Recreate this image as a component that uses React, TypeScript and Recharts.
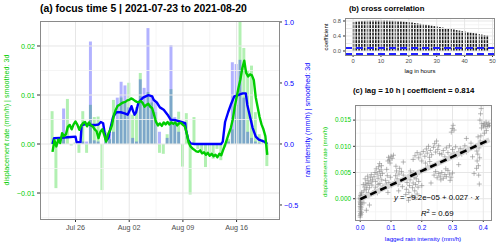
import React from 'react'
import { ComposedChart, Bar, Line, XAxis, YAxis, ReferenceLine, ScatterChart, Scatter } from 'recharts'

const FONT = '"Liberation Sans", Arial, Helvetica, sans-serif'
const GREEN = '#00cd00'
const BLUE = '#0000ff'
const MAJOR = '#e6e6e6'
const MINOR = '#f2f2f2'
const TXT = '#4d4d4d'
const BORDER = '#8a8a8a'

// ---- (a) focus time series, t = days since 2021-07-23 00:00
const dateTicks = [3, 10, 17, 24]
const dateLabels = ['Jul 26', 'Aug 02', 'Aug 09', 'Aug 16']
const dateMinor = [-0.5, 6.5, 13.5, 20.5, 27.5]
const dispTicks = [-0.01, 0, 0.01, 0.02]
const dispMinor = [-0.015, -0.005, 0.005, 0.015]
const rainTicks = [-0.5, 0, 0.5, 1]

// 12-hourly bars: displacement rate (x 1e-3 mm/h) and rain intensity (mm/h)
const dispBars = [
 6.7, -9.0, 1.0, 2.0, 9.2, -0.3, 0.3, -1.8, 6.7, -1.8,
 8.0, 5.5, 5.6, -9.4, 2.5, 1.0, 9.0, 5.0, 9.5, 8.5,
 12.5, 6.0, 7.5, 14.5, 8.0, 10.6, 8.5, 6.5, -1.8, -2.0,
 2.0, 11.2, 4.0, 6.6, -4.6, 6.3, -10.3, 5.5, -1.0, -1.5,
 -4.7, -2.0, -3.0, -1.0, -3.3, -0.5, 1.0, 3.0, 8.0, 25.0,
 19.6, 15.0, 16.0, 6.5, 2.0, 1.0, -4.5,
]
const rainBars = [
 0, 0, 0.02, 0.29, 0, 0, 0, 0, 0.02, 0.02,
 0.84, 0.03, 0.02, 0, 0.05, 0.08, 0.10, 0.38, 0.51, 0.48,
 0.30, 0.05, 0.02, 0.53, 0.46, 0.95, 0.40, 0.34, 0.10, 0,
 0.05, 0.81, 0.22, 0.10, 0, 0, 0, 0, 0, 0,
 0, 0, 0, 0, 0, 0, 0.02, 0.67, 0.655, 0.69,
 0.38, 0.10, 0.05, 0.02, 0.01, 0, 0,
]
// smoothed (3d) displacement rate every 6 h (x 1e-3 mm/h)
const dispSmooth = [
 -1.6, 0.8, -0.5, 0.9, 0.2, 2.2, 1.6, 2.0, 3.5, 3.9,
 3.0, 4.0, 4.6, 3.9, 2.9, 3.8, 4.3, 4.5, 3.6, 4.4,
 3.8, 3.6, 3.0, 2.6, 1.2, 2.5, 3.0, 1.8, 0.5, 2.0,
 2.8, 3.8, 5.9, 7.0, 7.8, 8.0, 8.3, 8.5, 8.6, 8.9,
 9.0, 9.3, 9.1, 8.8, 8.6, 8.5, 8.8, 8.4, 7.6, 8.0,
 8.2, 7.6, 7.3, 5.9, 4.5, 3.8, 4.2, 3.7, 4.4, 4.0,
 4.5, 4.0, 4.4, 4.1, 4.4, 3.8, 4.2, 4.3, 3.9, 3.6,
 2.2, 0.3, -0.5, -0.9, -1.2, -1.5, -1.6, -1.3, -1.9, -1.7,
 -2.2, -1.8, -2.4, -2.0, -2.5, -2.2, -2.7, -2.0, -2.3, -1.2,
 -0.2, 1.0, 2.2, 3.3, 5.0, 7.5, 9.5, 11.5, 13.2, 15.5,
 17.0, 14.5, 13.8, 14.2, 14.0, 13.0, 9.5, 7.5, 5.5, 4.0,
 3.0, 1.6, -2.2,
]
// smoothed (3d) rain intensity
const rainSmoothT = [
 0, 0.2, 1, 2, 3, 3.15, 3.65, 3.8, 4.5, 5, 5.5, 6, 6.3, 6.6, 6.8, 7.0, 7.3, 7.5, 7.9, 8.3,
 8.9, 9.4, 9.8, 10.1, 10.3, 10.5, 10.7, 10.9, 11.2, 11.8, 12.5, 13.0, 13.2, 13.6, 14.0, 14.5,
 15.0, 15.4, 16.0, 16.8, 17.3, 17.4, 17.7, 18.0, 18.5, 22.0, 22.2, 22.3, 22.5, 22.9, 23.3,
 23.7, 24.2, 24.8, 25.2, 25.4, 25.8, 26.1, 26.5, 26.9, 27.6, 28,
]
const rainSmooth = [
 0, 0.047, 0.05, 0.055, 0.06, 0.015, 0.015, 0.155, 0.165, 0.155, 0.155, 0.16, 0.18, 0.17, 0.09, 0.03, 0.05, 0.115, 0.22, 0.26,
 0.26, 0.25, 0.24, 0.28, 0.31, 0.27, 0.24, 0.26, 0.34, 0.38, 0.40, 0.39, 0.36, 0.34, 0.30, 0.28,
 0.24, 0.20, 0.195, 0.18, 0.17, 0.115, 0.034, 0.005, 0, 0, 0.02, 0.075, 0.18, 0.26, 0.33,
 0.39, 0.40, 0.415, 0.415, 0.32, 0.21, 0.13, 0.06, 0.035, 0.02, 0,
]

// ---- (b) cross correlation by lag (hours)
const ccf = [
 0.772, 0.785, 0.793, 0.799, 0.804, 0.808, 0.810, 0.811, 0.812, 0.813,
 0.814, 0.813, 0.811, 0.808, 0.805, 0.801, 0.796, 0.790, 0.783, 0.776,
 0.768, 0.757, 0.746, 0.735, 0.724, 0.712, 0.700, 0.688, 0.675, 0.663,
 0.650, 0.637, 0.624, 0.611, 0.597, 0.584, 0.571, 0.557, 0.544, 0.531,
 0.517, 0.504, 0.491, 0.477, 0.464, 0.451, 0.437, 0.424, 0.411,
]
const ccfConf = 0.077
const lagTicks = [0, 10, 20, 30, 40, 50]
const lagMinor = [5, 15, 25, 35, 45]
const coefTicks = [0, 0.2, 0.4, 0.6, 0.8]
const coefMinor = [-0.1, 0.1, 0.3, 0.5, 0.7]

// ---- (c) lagged rain intensity vs displacement rate
const scatterPts: [number, number][] = [
 [0.000, -0.0032], [0.001, -0.0028], [0.000, -0.0024], [0.002, -0.0021], [0.001, -0.0018], [0.000, -0.0015],
 [0.002, -0.0012], [0.001, -0.0009], [0.000, -0.0006], [0.003, -0.0004], [0.001, -0.0002], [0.002, 0.0001],
 [0.000, 0.0003], [0.001, 0.0006], [0.003, 0.0009], [0.000, -0.0035], [0.002, -0.0030], [0.004, -0.0026],
 [0.001, -0.0011], [0.003, -0.0016], [0.000, 0.0000], [0.002, -0.0007], [0.005, 0.0012], [0.004, 0.0005],
 [0.020, -0.0022], [0.030, -0.0012], [0.012, -0.0008],
 [0.012, 0.0015], [0.015, 0.0022], [0.018, 0.0030], [0.020, 0.0018], [0.022, 0.0026], [0.025, 0.0035],
 [0.028, 0.0029], [0.030, 0.0021], [0.033, 0.0040], [0.035, 0.0032], [0.038, 0.0026], [0.016, 0.0038],
 [0.024, 0.0043], [0.010, 0.0027], [0.040, 0.0036], [0.027, 0.0012], [0.036, 0.0046], [0.019, 0.0008],
 [0.045, 0.0042], [0.048, 0.0050], [0.050, 0.0033], [0.052, 0.0057], [0.055, 0.0047], [0.058, 0.0039],
 [0.060, 0.0061], [0.062, 0.0052], [0.064, 0.0029], [0.066, 0.0044], [0.068, 0.0055], [0.070, 0.0036],
 [0.072, 0.0048], [0.074, 0.0024], [0.046, 0.0015], [0.056, 0.0011], [0.065, 0.0018], [0.063, 0.0067],
 [0.058, 0.0027], [0.069, 0.0063], [0.050, 0.0022],
 [0.082, 0.0035], [0.085, 0.0028], [0.088, 0.0044], [0.090, 0.0072], [0.092, 0.0079], [0.095, 0.0074],
 [0.097, 0.0068], [0.100, 0.0081], [0.098, 0.0041], [0.093, 0.0031], [0.086, 0.0056], [0.104, 0.0077],
 [0.102, 0.0025],
 [0.112, 0.0032], [0.115, 0.0044], [0.118, 0.0053], [0.120, 0.0038], [0.123, 0.0027], [0.126, 0.0047],
 [0.128, 0.0058], [0.131, 0.0035], [0.134, 0.0052], [0.137, 0.0023], [0.140, 0.0045], [0.116, 0.0062],
 [0.148, 0.0008], [0.150, 0.0018], [0.152, 0.0031], [0.155, 0.0042], [0.158, 0.0012], [0.160, 0.0025],
 [0.162, 0.0036], [0.165, 0.0047], [0.168, 0.0005], [0.170, 0.0021], [0.172, 0.0030], [0.175, 0.0041],
 [0.177, 0.0015], [0.180, 0.0027], [0.182, 0.0038], [0.185, 0.0009], [0.188, 0.0022], [0.190, 0.0033],
 [0.174, 0.0050], [0.163, 0.0053], [0.186, 0.0046], [0.157, -0.0003], [0.179, 0.0002],
 [0.172, 0.0075], [0.178, 0.0082], [0.185, 0.0088], [0.190, 0.0078], [0.195, 0.0085], [0.200, 0.0072],
 [0.205, 0.0090], [0.210, 0.0081],
 [0.212, 0.0068], [0.215, 0.0095], [0.218, 0.0087], [0.222, 0.0100], [0.225, 0.0079], [0.228, 0.0092],
 [0.232, 0.0084], [0.226, 0.0071], [0.219, 0.0062],
 [0.238, 0.0098], [0.242, 0.0105], [0.245, 0.0089], [0.248, 0.0110], [0.252, 0.0094], [0.255, 0.0101],
 [0.258, 0.0086],
 [0.240, 0.0045], [0.245, 0.0052], [0.250, 0.0040], [0.255, 0.0048], [0.260, 0.0043], [0.265, 0.0050],
 [0.270, 0.0039], [0.275, 0.0046], [0.280, 0.0042], [0.285, 0.0054], [0.290, 0.0047], [0.295, 0.0041],
 [0.300, 0.0049], [0.262, 0.0036], [0.278, 0.0057], [0.292, 0.0035],
 [0.265, 0.0085], [0.270, 0.0092], [0.275, 0.0080], [0.280, 0.0097], [0.285, 0.0088], [0.290, 0.0101],
 [0.295, 0.0083], [0.300, 0.0094], [0.305, 0.0087], [0.310, 0.0099], [0.315, 0.0082], [0.320, 0.0090],
 [0.325, 0.0096], [0.330, 0.0085], [0.335, 0.0093], [0.340, 0.0101], [0.345, 0.0089], [0.350, 0.0095],
 [0.296, 0.0127], [0.299, 0.0134], [0.302, 0.0140], [0.305, 0.0131],
 [0.378, 0.0058], [0.380, 0.0072], [0.382, 0.0085], [0.384, 0.0063], [0.386, 0.0097], [0.388, 0.0078],
 [0.390, 0.0110], [0.392, 0.0120], [0.394, 0.0135], [0.389, 0.0150], [0.391, 0.0162], [0.393, 0.0172],
 [0.385, 0.0045], [0.387, 0.0028], [0.396, 0.0105], [0.379, 0.0091], [0.383, 0.0118], [0.395, 0.0143],
 [0.400, 0.0139], [0.403, 0.0143], [0.406, 0.0137], [0.409, 0.0146], [0.412, 0.0141], [0.415, 0.0138],
 [0.418, 0.0144], [0.420, 0.0140], [0.404, 0.0125], [0.410, 0.0130],
 [0.345, 0.0115], [0.360, 0.0106], [0.320, 0.0065], [0.210, 0.0055], [0.140, 0.0070], [0.108, 0.0083],
 [0.090, 0.0012], [0.125, 0.0015], [0.365, 0.0080], [0.370, 0.0048], [0.200, 0.0025], [0.230, 0.0030],
]
const fitIntercept = -9.2e-5
const fitSlope = 0.027
const fitRange = [0, 0.42]
const rainLagTicks = [0, 0.1, 0.2, 0.3, 0.4]
const rainLagMinor = [0.05, 0.15, 0.25, 0.35]
const dispTicksC = [0, 0.005, 0.01, 0.015]
const dispMinorC = [-0.0025, 0.0025, 0.0075, 0.0125, 0.0175]

// (a) bars on a half-day grid; lines merged on their own time axis
const barsA = dispBars.map((v, i) => ({ t: i * 0.5, gBar: v / 1000, bBar: rainBars[i] }))
const rowMap = new Map<string, any>()
function put(t: number, key: string, v: number) {
 const id = t.toFixed(3)
 const row = rowMap.get(id) ?? { t }
 row[key] = v
 rowMap.set(id, row)
}
dispSmooth.forEach((v, i) => put(i * 0.25, 'gLine', v / 1000))
rainSmoothT.forEach((t, i) => put(t, 'bLine', rainSmooth[i]))
const linesA = Array.from(rowMap.values()).sort((a, b) => a.t - b.t)

const ccfData = ccf.map((r, lag) => ({ lag, r }))
const pointsC = scatterPts.map(([x, y]) => ({ x, y }))
const fitLine = fitRange.map((x) => ({ x, y: fitIntercept + fitSlope * x }))

const DOM_T: [number, number] = [-1.63, 29.53]
const DOM_DISP: [number, number] = [-0.0153, 0.0251]
const DOM_RAIN: [number, number] = [-0.615, 1.008]

const minus = (s: string) => s.replace('-', '\u2212')
const fmt = (d: number) => (v: number) => minus(v.toFixed(d))

const abs = (o: React.CSSProperties): React.CSSProperties => ({ position: 'absolute', whiteSpace: 'nowrap', lineHeight: 1, ...o })

function VLabel({ x, y, size, color, children }: any) {
 return (
 <div style={abs({ left: x, top: y, fontSize: size, color, transform: 'translate(-50%,-50%) rotate(-90deg)' })}>
 {children}
 </div>
 )
}

function Box({ l, t, w, h }: any) {
 return <div style={{ position: 'absolute', left: l, top: t, width: w, height: h, border: `1px solid ${BORDER}`, boxSizing: 'border-box', pointerEvents: 'none' }} />
}

function PlusMark(p: any) {
 const { cx, cy } = p
 return <path d={`M${cx - 2.5},${cy}h5M${cx},${cy - 2.5}v5`} stroke="#808080" strokeOpacity={0.55} strokeWidth={1} fill="none" />
}

export default function App() {
 return (
 <div style={{ position: 'absolute', left: 0, top: 0, width: 500, height: 247, background: '#fff', fontFamily: FONT, overflow: 'hidden' }}>
 {/* (a) axes, grid and bars */}
 <div style={{ position: 'absolute', left: 0, top: 0 }}>
 <ComposedChart width={320} height={247} data={barsA} margin={{ top: 21, right: 0, bottom: 8, left: 0 }}>
 <XAxis xAxisId="a" dataKey="t" type="number" domain={DOM_T} allowDataOverflow ticks={dateTicks}
 tickFormatter={(v) => dateLabels[dateTicks.indexOf(v)]} height={20} tickSize={3} tickMargin={3}
 axisLine={false} tickLine={{ stroke: '#333' }} tick={{ fill: TXT, fontSize: 7.2 }} />
 <XAxis xAxisId="b" dataKey="t" type="number" domain={DOM_T} allowDataOverflow hide />
 <YAxis yAxisId="left" type="number" domain={DOM_DISP} allowDataOverflow ticks={dispTicks}
 tickFormatter={fmt(2)} width={40} tickSize={3} axisLine={false} tickLine={{ stroke: '#333' }}
 tick={{ fill: GREEN, fontSize: 7.2 }} />
 <YAxis yAxisId="right" orientation="right" type="number" domain={DOM_RAIN} allowDataOverflow
 ticks={rainTicks} tickFormatter={fmt(1)} width={41} tickSize={3} axisLine={false}
 tickLine={{ stroke: '#333' }} tick={{ fill: BLUE, fontSize: 7.2 }} />
 {dateMinor.map((v) => <ReferenceLine key={'xm' + v} x={v} xAxisId="a" yAxisId="left" stroke={MINOR} strokeWidth={0.8} />)}
 {dispMinor.map((v) => <ReferenceLine key={'ym' + v} y={v} xAxisId="a" yAxisId="left" stroke={MINOR} strokeWidth={0.8} />)}
 {dateTicks.map((v) => <ReferenceLine key={'xM' + v} x={v} xAxisId="a" yAxisId="left" stroke={MAJOR} strokeWidth={1} />)}
 {dispTicks.map((v) => <ReferenceLine key={'yM' + v} y={v} xAxisId="a" yAxisId="left" stroke={MAJOR} strokeWidth={1} />)}
 <Bar xAxisId="a" yAxisId="left" dataKey="gBar" fill={GREEN} fillOpacity={0.3} barSize={3} isAnimationActive={false} />
 <Bar xAxisId="b" yAxisId="right" dataKey="bBar" fill={BLUE} fillOpacity={0.3} barSize={3} isAnimationActive={false} />
 </ComposedChart>
 </div>
 {/* (a) smoothed lines on top */}
 <div style={{ position: 'absolute', left: 0, top: 0 }}>
 <ComposedChart width={320} height={247} data={linesA} margin={{ top: 21, right: 41, bottom: 28, left: 40 }}>
 <XAxis dataKey="t" type="number" domain={DOM_T} allowDataOverflow hide />
 <YAxis yAxisId="left" type="number" domain={DOM_DISP} allowDataOverflow hide />
 <YAxis yAxisId="right" type="number" domain={DOM_RAIN} allowDataOverflow hide />
 <Line yAxisId="right" dataKey="bLine" type="linear" stroke={BLUE} strokeWidth={2.4} dot={false}
 connectNulls strokeLinejoin="round" isAnimationActive={false} />
 <Line yAxisId="left" dataKey="gLine" type="linear" stroke={GREEN} strokeWidth={2.4} dot={false}
 connectNulls strokeLinejoin="round" isAnimationActive={false} />
 </ComposedChart>
 </div>
 <Box l={40} t={21} w={240} h={199} />
 <div style={abs({ left: 40, top: 4, fontSize: 10.4, fontWeight: 'bold', color: '#000' })}>
 (a) focus time 5 | 2021-07-23 to 2021-08-20
 </div>
 <VLabel x={7} y={120} size={7.2} color={GREEN}>displacement rate (mm/h) | smoothed: 3d</VLabel>
 <VLabel x={308} y={120} size={7.2} color={BLUE}>rain intensity (mm/h) | smoothed: 3d</VLabel>

 {/* (b) */}
 <div style={{ position: 'absolute', left: 310, top: 0 }}>
 <ComposedChart width={190} height={85} data={ccfData} margin={{ top: 18, right: 5, bottom: 18, left: 0 }}>
 <XAxis dataKey="lag" type="number" domain={[-2.9, 50.9]} allowDataOverflow ticks={lagTicks} height={12}
 tickSize={2} tickMargin={2} axisLine={false} tickLine={{ stroke: '#333' }} tick={{ fill: TXT, fontSize: 5.8 }} />
 <YAxis type="number" domain={[-0.107, 0.88]} allowDataOverflow ticks={coefTicks} tickFormatter={fmt(1)}
 width={35} tickSize={2} tickMargin={2} axisLine={false} tickLine={{ stroke: '#333' }}
 tick={{ fill: TXT, fontSize: 5.8 }} />
 {lagMinor.map((v) => <ReferenceLine key={'bxm' + v} x={v} stroke={MINOR} strokeWidth={0.8} />)}
 {coefMinor.map((v) => <ReferenceLine key={'bym' + v} y={v} stroke={MINOR} strokeWidth={0.8} />)}
 {lagTicks.map((v) => <ReferenceLine key={'bxM' + v} x={v} stroke={MAJOR} strokeWidth={1} />)}
 {coefTicks.map((v) => <ReferenceLine key={'byM' + v} y={v} stroke={MAJOR} strokeWidth={1} />)}
 <Bar dataKey="r" fill="#1a1a1a" barSize={1.6} isAnimationActive={false} />
 <ReferenceLine y={ccfConf} stroke="#2020ff" strokeWidth={2} strokeDasharray="7 4" />
 <ReferenceLine y={-ccfConf} stroke="#2020ff" strokeWidth={2} strokeDasharray="7 4" />
 </ComposedChart>
 </div>
 <Box l={345} t={18} w={150} h={38} />
 <div style={abs({ left: 349, top: 5, fontSize: 7.8, fontWeight: 'bold', color: '#000' })}>(b) cross correlation</div>
 <VLabel x={326} y={37} size={6} color="#000">coefficient</VLabel>
 <div style={abs({ left: 420, top: 71, fontSize: 6, color: '#000', transform: 'translate(-50%,-50%)' })}>lag in hours</div>

 {/* (c) */}
 <div style={{ position: 'absolute', left: 310, top: 85 }}>
 <ScatterChart width={190} height={162} margin={{ top: 20, right: 9, bottom: 13, left: 0 }}>
 <XAxis dataKey="x" type="number" domain={[-0.017, 0.425]} allowDataOverflow ticks={rainLagTicks}
 tickFormatter={fmt(1)} height={14} tickSize={2} tickMargin={3} axisLine={false}
 tickLine={{ stroke: '#333' }} tick={{ fill: BLUE, fontSize: 6.4 }} />
 <YAxis dataKey="y" type="number" domain={[-0.00406, 0.01788]} allowDataOverflow ticks={dispTicksC}
 tickFormatter={fmt(3)} width={45} tickSize={2} tickMargin={2} axisLine={false}
 tickLine={{ stroke: '#333' }} tick={{ fill: GREEN, fontSize: 6.4 }} />
 {rainLagMinor.map((v) => <ReferenceLine key={'cxm' + v} x={v} stroke={MINOR} strokeWidth={0.8} />)}
 {dispMinorC.map((v) => <ReferenceLine key={'cym' + v} y={v} stroke={MINOR} strokeWidth={0.8} />)}
 {rainLagTicks.map((v) => <ReferenceLine key={'cxM' + v} x={v} stroke={MAJOR} strokeWidth={1} />)}
 {dispTicksC.map((v) => <ReferenceLine key={'cyM' + v} y={v} stroke={MAJOR} strokeWidth={1} />)}
 <Scatter data={pointsC} shape={PlusMark} isAnimationActive={false} />
 <Scatter data={fitLine} line={{ stroke: '#d6d6d6', strokeWidth: 5 }} shape={() => <g />} isAnimationActive={false} />
 <Scatter data={fitLine} line={{ stroke: '#000', strokeWidth: 2.6, strokeDasharray: '7 4' }} shape={() => <g />} isAnimationActive={false} />
 </ScatterChart>
 </div>
 <Box l={355} t={105} w={137} h={116} />
 <div style={abs({ left: 353, top: 87, fontSize: 7.8, fontWeight: 'bold', color: '#000' })}>(c) lag = 10 h | coefficient = 0.814</div>
 <div style={abs({ left: 394, top: 194, fontSize: 7.8, color: '#000' })}>
 <i>y</i> = {'\u2212'}9.2e{'\u2212'}05 + 0.027 {'\u00b7'} <i>x</i>
 </div>
 <div style={abs({ left: 421, top: 209, fontSize: 7.8, color: '#000' })}>
 <i>R</i><sup style={{ fontSize: 5, verticalAlign: 3 }}>2</sup> = 0.69
 </div>
 <VLabel x={325} y={162} size={6.2} color={GREEN}>displacement rate (mm/h)</VLabel>
 <div style={abs({ left: 423, top: 239, fontSize: 6.2, color: BLUE, transform: 'translate(-50%,-50%)' })}>lagged rain intensity (mm/h)</div>
 </div>
 )
}
